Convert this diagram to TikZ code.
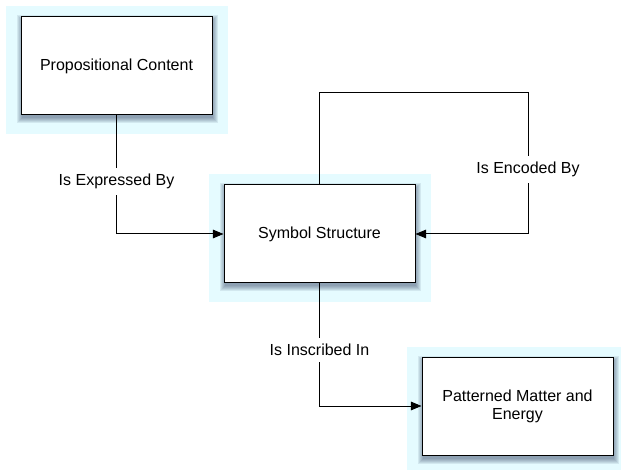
\documentclass[tikz,border=0pt]{standalone}
\usepackage{fontspec}
\setmainfont{Liberation Sans}
\usetikzlibrary{arrows.meta,positioning,calc,backgrounds}

\definecolor{glowcyan}{RGB}{229,251,255}
\definecolor{shadowblue}{RGB}{52,66,100}

\tikzset{
  concept/.style={draw=black, line width=0.75pt, fill=white,
    minimum width=143.25pt, minimum height=73.5pt, inner sep=0pt,
    align=center, font=\fontsize{12}{13.5}\selectfont},
  link/.style={line width=0.75pt, -{Triangle[length=8pt,width=6.5pt]}},
  tag/.style={fill=white, inner xsep=2pt, inner ysep=4.5pt,
    font=\fontsize{12}{13.5}\selectfont}
}

\begin{document}
\begin{tikzpicture}[x=0.75pt, y=-0.75pt]

% canvas
\useasboundingbox (0,0) rectangle (621,470);

% boxes
\node[concept] (content) at (116.5,66) {Propositional Content};
\node[concept] (symbol) at (319.5,234) {Symbol Structure};
\node[concept] (matter) at (517.5,406) {Patterned Matter and\\Energy};

% glow and soft shadow behind the boxes
\begin{scope}[on background layer]
\foreach \n in {content,symbol,matter}
{
  \fill[glowcyan] ($(\n.north west)+(-15,-10)$) rectangle ($(\n.south east)+(15,19)$);
  \foreach \s in {0,...,5}
    \fill[shadowblue, opacity=0.1] ($(\n.north west)+(1-\s,4-\s)$) rectangle ($(\n.south east)+(\s,3+\s)$);
}
\end{scope}

% turning point of the loop
\coordinate (loop) at (528,93);

% connectors
\draw[link] (content.south) |- (symbol.west)
  node[tag, pos=0.277] {Is Expressed By};
\draw[link] (symbol.north) |- (loop) |- (symbol.east)
  node[tag, pos=0.27] {Is Encoded By};
\draw[link] (symbol.south) |- (matter.west)
  node[tag, pos=0.272] {Is Inscribed In};

\end{tikzpicture}
\end{document}
